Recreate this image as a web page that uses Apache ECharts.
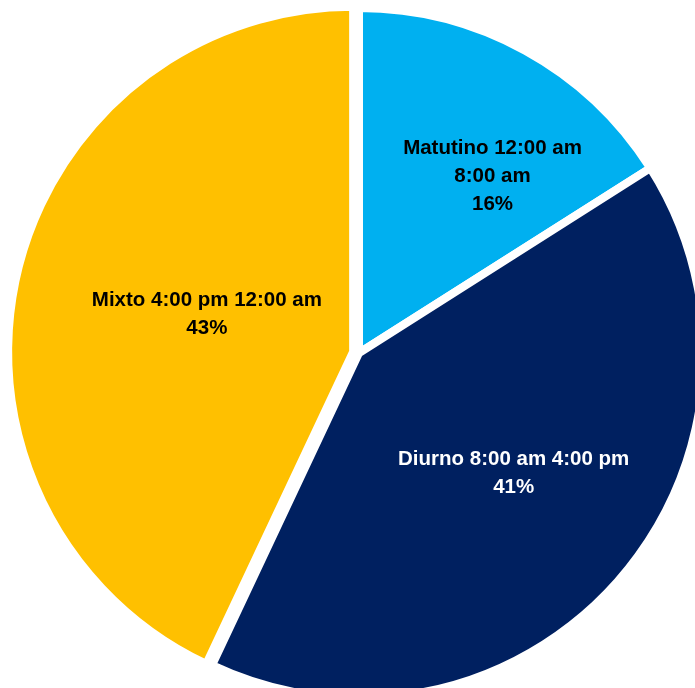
<!DOCTYPE html>
<html>
<head>
<meta charset="utf-8">
<script src="https://cdn.jsdelivr.net/npm/echarts@6/dist/echarts.min.js"></script>
<style>
html,body{margin:0;padding:0;background:#fff;}
#chart{width:695px;height:688px;}
</style>
</head>
<body>
<div id="chart"></div>
<script>
var categories = ['Matutino 12:00 am\n8:00 am', 'Diurno 8:00 am 4:00 pm', 'Mixto 4:00 pm 12:00 am'];
var values = [16, 41, 43];
var colors = ['#00B0F0', '#002060', '#FFC000'];
var labelColors = ['#000000', '#FFFFFF', '#000000'];
var labelOffsets = [[49, -23], [23, 4], [25, 1]];
var exploded = [false, false, true];

var data = categories.map(function (c, i) {
  return {
    name: c,
    value: values[i],
    selected: exploded[i],
    itemStyle: { color: colors[i] },
    label: { color: labelColors[i], offset: labelOffsets[i] },
    select: { itemStyle: { color: colors[i] }, label: { color: labelColors[i], offset: labelOffsets[i] } }
  };
});

var chart = echarts.init(document.getElementById('chart'), null, { renderer: 'canvas' });
chart.setOption({
  backgroundColor: '#ffffff',
  animation: false,
  series: [{
    type: 'pie',
    center: [359, 353],
    radius: [0, 345],
    startAngle: 90,
    clockwise: true,
    selectedMode: 'multiple',
    selectedOffset: 6,
    data: data,
    itemStyle: { borderColor: '#ffffff', borderWidth: 8 },
    label: {
      show: true,
      position: 'inside',
      formatter: function (p) { return p.name + '\n' + p.value + '%'; },
      fontFamily: 'Liberation Sans, Arial, sans-serif',
      fontWeight: 'bold',
      fontSize: 20.5,
      lineHeight: 28,
      align: 'center'
    },
    labelLine: { show: false }
  }]
});
</script>
</body>
</html>
